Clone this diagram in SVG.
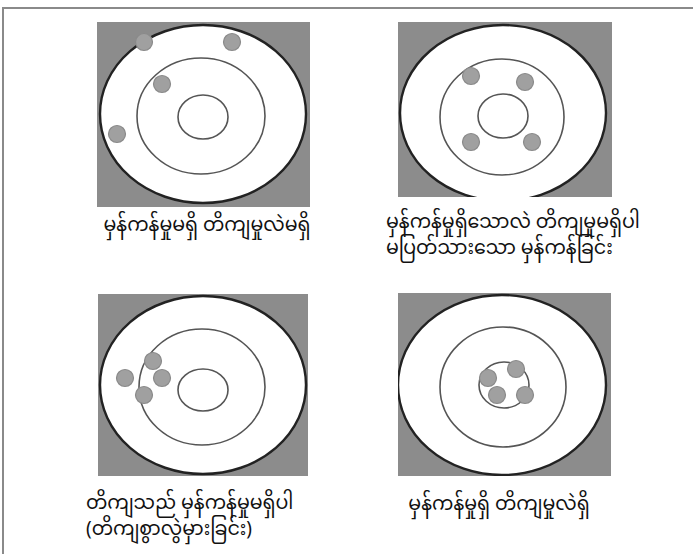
<svg xmlns="http://www.w3.org/2000/svg" width="693" height="554" viewBox="0 0 693 554">
<style>
.bg{fill:#8c8c8c}
.outer{fill:#fff;stroke:#222;stroke-width:2.4}
.ring{fill:none;stroke:#555;stroke-width:1.6}
.dot{fill:#a0a0a0;stroke:#8a8a8a;stroke-width:1.2}
.lbl{font-family:"Noto Sans Myanmar","Padauk","Myanmar Text","Myanmar3","Noto Sans",sans-serif;font-size:19px;fill:#111}
.frame{stroke:#8a8a8a;stroke-width:2;fill:none}
</style>
<defs>
<clipPath id="c1"><rect x="97" y="22" width="213" height="185"/></clipPath>
<clipPath id="c2"><rect x="398" y="22" width="214" height="175"/></clipPath>
<clipPath id="c3"><rect x="98" y="294" width="210" height="182"/></clipPath>
<clipPath id="c4"><rect x="398" y="293" width="213" height="183"/></clipPath>
</defs>
<rect width="693" height="554" fill="#fff"/>
<path class="frame" d="M3,554 V8 H693"/>

<g id="panel1">
<rect class="bg" x="97" y="22" width="213" height="185"/>
<g clip-path="url(#c1)">
<ellipse class="outer" cx="203" cy="114" rx="103" ry="89"/>
</g>
<ellipse class="ring" cx="201" cy="116" rx="64" ry="58"/>
<ellipse class="ring" cx="203" cy="117" rx="25" ry="22"/>
<circle class="dot" cx="144" cy="42" r="8.5"/>
<circle class="dot" cx="232" cy="42" r="8.5"/>
<circle class="dot" cx="162" cy="84" r="8.5"/>
<circle class="dot" cx="117" cy="134" r="8.5"/>
<text class="lbl" x="207" y="231" text-anchor="middle">မှန်ကန်မှုမရှိ တိကျမှုလဲမရှိ</text>
</g>

<g id="panel2">
<rect class="bg" x="398" y="22" width="214" height="175"/>
<g clip-path="url(#c2)">
<ellipse class="outer" cx="503" cy="113" rx="103" ry="88"/>
</g>
<ellipse class="ring" cx="502" cy="117" rx="62" ry="58"/>
<ellipse class="ring" cx="503" cy="116" rx="25" ry="22"/>
<circle class="dot" cx="471" cy="76" r="8.5"/>
<circle class="dot" cx="525" cy="82" r="8.5"/>
<circle class="dot" cx="471" cy="142" r="8.5"/>
<circle class="dot" cx="532" cy="142" r="8.5"/>
<text class="lbl" x="386" y="228">မှန်ကန်မှုရှိသောလဲ တိကျမှုမရှိပါ</text>
<text class="lbl" x="386" y="254">မပြတ်သားသော မှန်ကန်ခြင်း</text>
</g>

<g id="panel3">
<rect class="bg" x="98" y="294" width="210" height="182"/>
<g clip-path="url(#c3)">
<ellipse class="outer" cx="203" cy="385" rx="103" ry="89"/>
</g>
<ellipse class="ring" cx="202" cy="387" rx="63" ry="58"/>
<ellipse class="ring" cx="203" cy="390" rx="25" ry="21"/>
<circle class="dot" cx="153" cy="361" r="8.5"/>
<circle class="dot" cx="125" cy="378" r="8.5"/>
<circle class="dot" cx="162" cy="378" r="8.5"/>
<circle class="dot" cx="144" cy="395" r="8.5"/>
<text class="lbl" x="86" y="509">တိကျသည် မှန်ကန်မှုမရှိပါ</text>
<text class="lbl" x="86" y="535">(တိကျစွာလွဲမှားခြင်း)</text>
</g>

<g id="panel4">
<rect class="bg" x="398" y="293" width="213" height="183"/>
<g clip-path="url(#c4)">
<ellipse class="outer" cx="502" cy="385" rx="104" ry="90"/>
</g>
<ellipse class="ring" cx="503" cy="387" rx="63" ry="60"/>
<ellipse class="ring" cx="504" cy="385" rx="25" ry="23"/>
<circle class="dot" cx="488" cy="378" r="8.5"/>
<circle class="dot" cx="516" cy="369" r="8.5"/>
<circle class="dot" cx="497" cy="395" r="8.5"/>
<circle class="dot" cx="525" cy="395" r="8.5"/>
<text class="lbl" x="499" y="510" text-anchor="middle">မှန်ကန်မှုရှိ တိကျမှုလဲရှိ</text>
</g>
</svg>
